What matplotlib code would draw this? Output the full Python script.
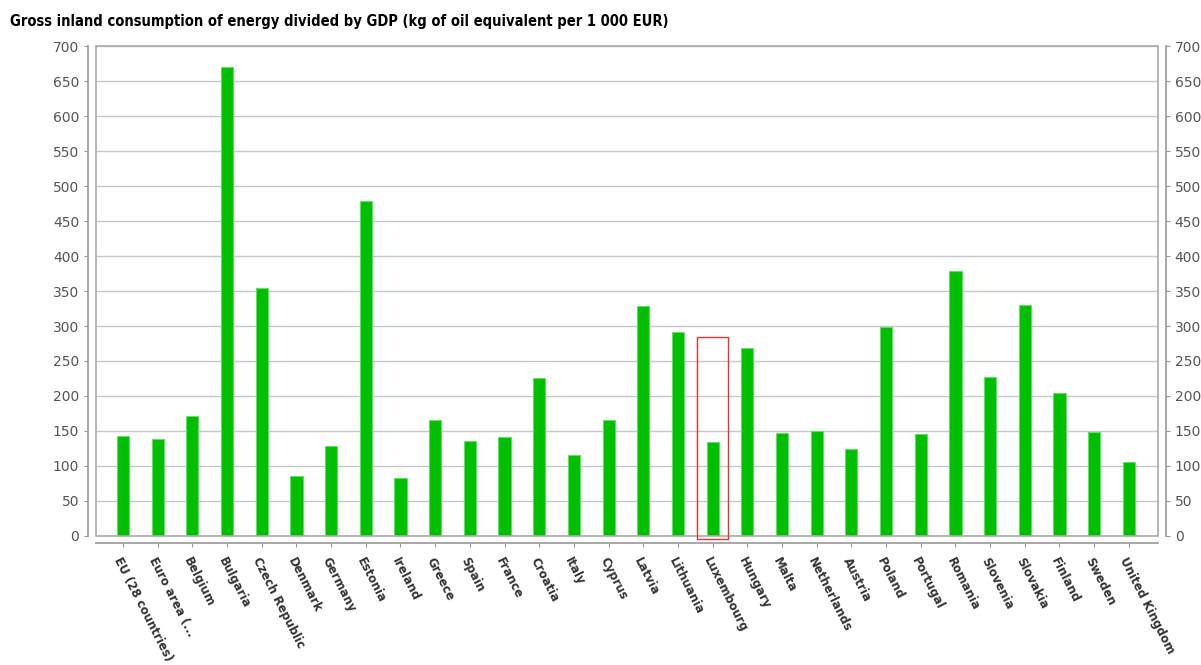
import numpy as np
import matplotlib.pyplot as plt
from matplotlib.patches import Rectangle

countries = ['EU (28 countries)', 'Euro area (...', 'Belgium', 'Bulgaria', 'Czech Republic',
             'Denmark', 'Germany', 'Estonia', 'Ireland', 'Greece', 'Spain', 'France',
             'Croatia', 'Italy', 'Cyprus', 'Latvia', 'Lithuania', 'Luxembourg', 'Hungary',
             'Malta', 'Netherlands', 'Austria', 'Poland', 'Portugal', 'Romania', 'Slovenia',
             'Slovakia', 'Finland', 'Sweden', 'United Kingdom']
values = [143, 138, 172, 670, 355, 86, 129, 479, 83, 165, 136, 142, 226, 116, 166,
          329, 292, 134, 269, 147, 150, 124, 299, 146, 379, 227, 330, 204, 148, 105]
highlight = 'Luxembourg'
yticks = list(range(0, 701, 50))

fig = plt.figure(figsize=(12.01, 6.65), dpi=100)
ax = fig.add_axes([0.0799, 0.194, 0.8843, 0.7368])

x = np.arange(len(countries))
ax.bar(x, values, width=0.35, color='#00bf00', edgecolor='#66dd66', linewidth=0.8, zorder=3)

ax.set_xlim(-0.78, len(countries) - 1 + 0.84)
ax.set_ylim(0, 700)
ax.set_yticks(yticks)
ax.yaxis.grid(True, color='#c8c8c8', linewidth=1, zorder=0)
ax.set_axisbelow(True)

# axis lines sit slightly outside the plot box
gray = '#999999'
ax.spines['top'].set_visible(False)
ax.spines['left'].set_position(('outward', 6))
ax.spines['bottom'].set_position(('outward', 5))
ax.spines['right'].set_position(('outward', 6))
for s in ['left', 'bottom', 'right']:
    ax.spines[s].set_color(gray)
    ax.spines[s].set_linewidth(1.2)

ax.add_patch(Rectangle((0, 0), 1, 1, transform=ax.transAxes, fill=False,
                       edgecolor='#aaaaaa', linewidth=1.2, clip_on=False, zorder=4))

ax.tick_params(axis='y', left=True, right=True, labelleft=True, labelright=True,
               length=3, color=gray, labelcolor='#555555', labelsize=10, pad=3)
ax.set_xticks(x)
ax.set_xticklabels(countries, rotation=-63, ha='left', va='top', rotation_mode='anchor',
                   fontsize=8.5, fontweight='bold', color='#333333')
ax.tick_params(axis='x', length=3, color=gray, pad=6)

# red box around the selected country
i = countries.index(highlight)
ax.add_patch(Rectangle((i - 0.45, -4), 0.9, 288, fill=False, edgecolor='#e83030',
                       linewidth=1, clip_on=False, zorder=5))

fig.text(0.008, 0.967, 'Gross inland consumption of energy divided by GDP (kg of oil equivalent per 1 000 EUR)',
         fontsize=10.5, fontweight='bold', fontstretch='condensed', va='center', ha='left')

fig.savefig('out.png', dpi=100)
